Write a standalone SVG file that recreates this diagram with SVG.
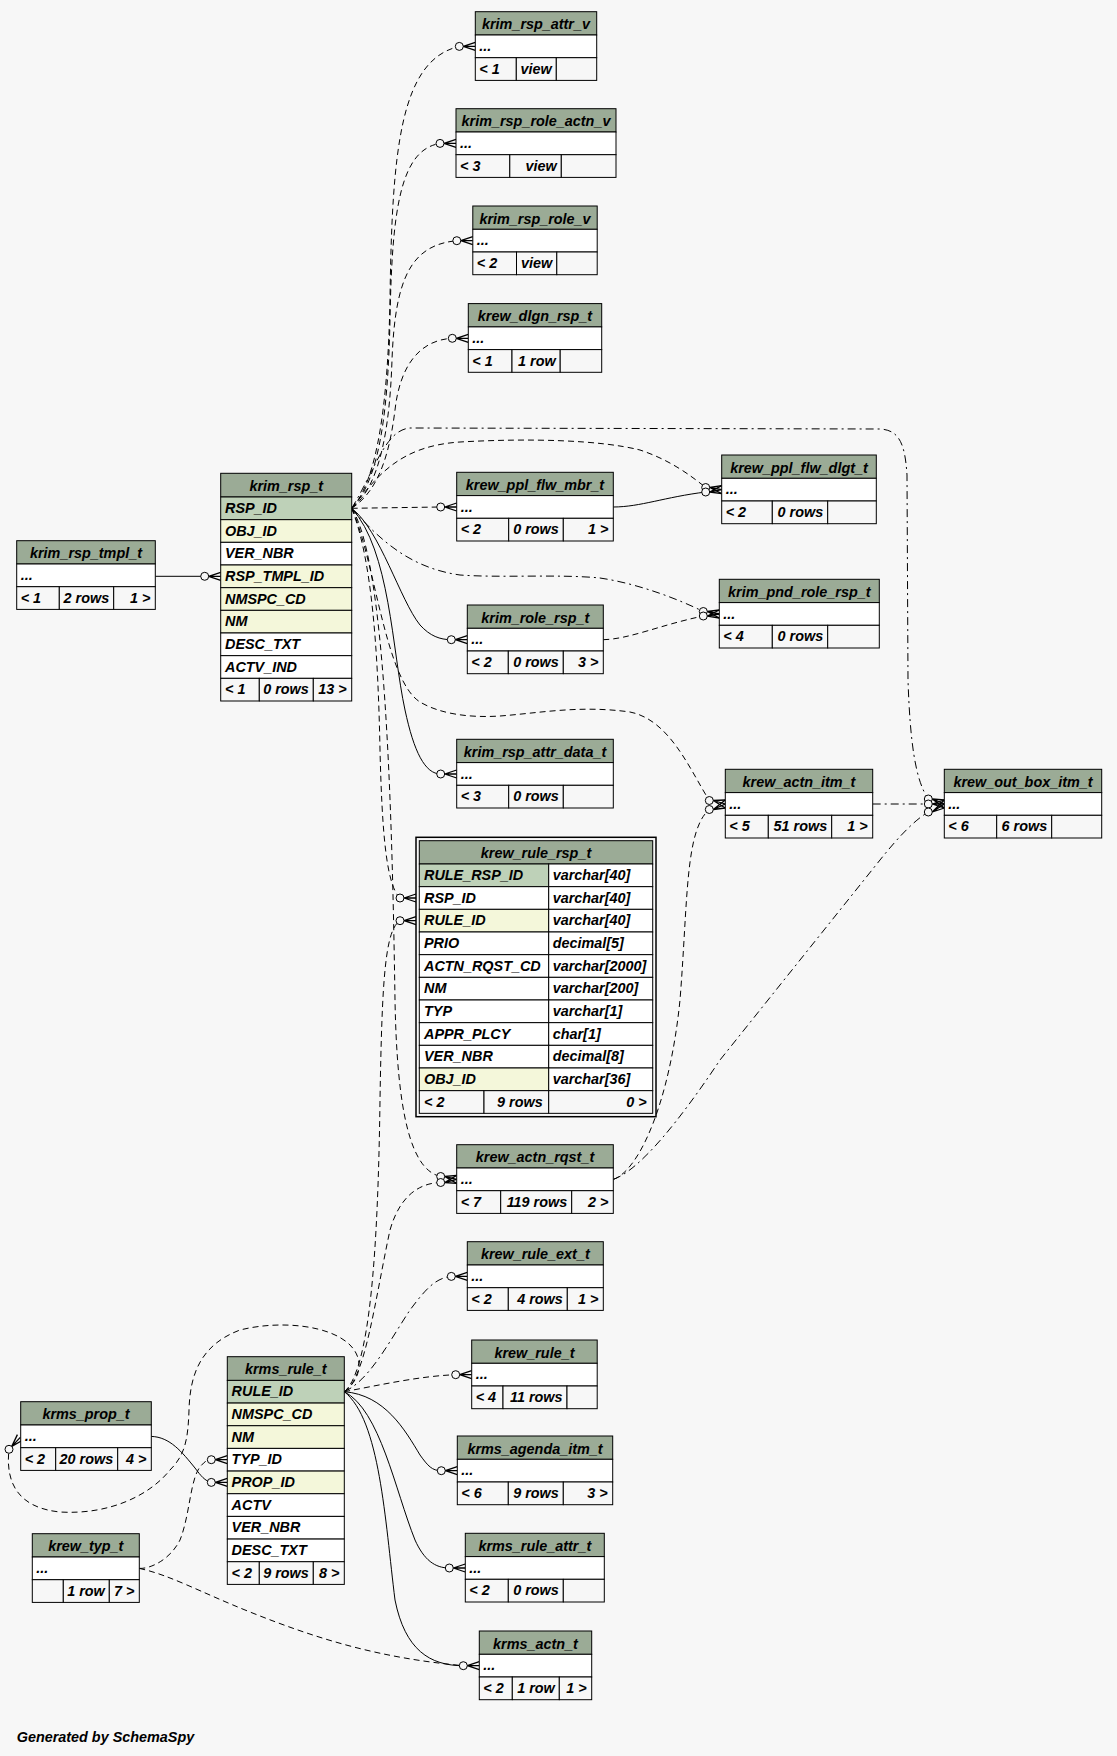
<svg xmlns="http://www.w3.org/2000/svg" width="1117" height="1756" viewBox="0 0 1117 1756">
<style>
.h{fill:#9bab96;stroke:#000;stroke-width:1}
.k{fill:#bed1b8;stroke:#000;stroke-width:1}
.i{fill:#f4f7da;stroke:#000;stroke-width:1}
.w{fill:#fff;stroke:#000;stroke-width:1}
.f{fill:#f7f7f7;stroke:#000;stroke-width:1}
text{font-family:"Liberation Sans",Arial,Helvetica,sans-serif;font-weight:bold;font-style:italic;font-size:14.4px;fill:#000}
.c{text-anchor:middle}
.r{text-anchor:end}
.e{fill:none;stroke:#000;stroke-width:1}
.d{stroke-dasharray:6 4}
.dd{stroke-dasharray:8 4 2 4}
.o{fill:#f7f7f7;stroke:#000;stroke-width:1}
.cr{fill:none;stroke:#000;stroke-width:1.3}
</style>
<rect width="1117" height="1756" fill="#f7f7f7"/>
<g id="connectors">
<path class="e" d="M155.3,576.3H204.7"/>
<path class="e" d="M613.3,507C640,507 665,497 705.7,492"/>
<path class="e" d="M351.7,508.3C380,530 400,600 420,625C430,636 440,639.7 451.3,639.7"/>
<path class="e" d="M351.7,508.3C390,550 392,650 405,710C414,752 425,774 440.7,774"/>
<path class="e" d="M344.3,1391.7C385,1395 405,1430 420,1455C428,1466 432,1470.7 441.3,1470.7"/>
<path class="e" d="M344.3,1391.7C380,1410 395,1490 415,1540C424,1560 435,1568 449.3,1568"/>
<path class="e" d="M344.3,1391.7C380,1420 385,1520 395,1600C405,1650 430,1665.7 463.3,1665.7"/>
<path class="e" d="M151.3,1436.4C170,1437 182,1452 195,1468C201,1476 205,1481 211.3,1482.4"/>
<path class="e d" d="M351.7,508.3C378,480 388,400 390,300C392,150 400,60 459.3,46.4"/>
<path class="e d" d="M351.7,508.3C380,480 388,410 390,320C392,210 400,150 440,143.4"/>
<path class="e d" d="M351.7,508.3C382,485 390,420 392,360C395,280 410,245 456.8,240.7"/>
<path class="e d" d="M351.7,508.3C380,490 390,450 395,410C400,365 420,340 452.3,338.3"/>
<path class="e d" d="M351.7,508.3L440.7,507"/>
<path class="e d" d="M351.7,508.3C378,475 400,446 460,442C530,438 600,440 640,450C670,460 690,475 705.7,487.5"/>
<path class="e d" d="M603.3,639.7C630,639 660,625 703.3,616"/>
<path class="e d" d="M351.7,508.3C375,560 385,680 420,702C440,714 470,718 500,716C540,713 580,705 630,712C670,720 690,770 709.3,800.5"/>
<path class="e d" d="M351.7,508.3C372,560 378,650 380,750C382,830 386,885 400,898"/>
<path class="e d" d="M351.7,508.3C385,560 392,800 395,1000C397,1110 410,1170 440.7,1176.5"/>
<path class="e d" d="M344.3,1391.7C370,1370 378,1250 380,1100C382,980 385,930 400,920.7"/>
<path class="e d" d="M344.3,1391.7C365,1380 375,1300 390,1230C400,1195 420,1183 440.7,1182.5"/>
<path class="e d" d="M344.3,1391.7C380,1385 420,1376 455.7,1374.7"/>
<path class="e d" d="M344.3,1391.7C360,1380 365,1360 350,1345C330,1325 280,1320 240,1330C200,1345 190,1375 189,1410C188,1440 185,1455 170,1470C150,1495 110,1515 60,1512C20,1508 5,1485 9,1449.3"/>
<path class="e d" d="M139.3,1568.4C150,1569 170,1560 180,1540C190,1515 190,1480 200,1467C204,1462 207,1459.7 211.3,1459.7"/>
<path class="e d" d="M139.3,1568.4C170,1575 200,1592 250,1612C320,1640 380,1658 463.3,1665.7"/>
<path class="e d" d="M613.3,1179.4C640,1170 670,1100 680,1000C688,900 685,830 709.3,809.5"/>
<path class="e dd" d="M351.7,508.3C380,540 410,568 460,575C500,578 560,574 600,578C640,584 680,600 703.3,611.5"/>
<path class="e dd" d="M351.7,508.3C375,470 385,430 410,428L880,429C900,430 905,445 907,475L908,680C910,740 915,780 928.3,799"/>
<path class="e dd" d="M344.3,1391.7C370,1380 390,1340 410,1310C425,1290 435,1278 451.3,1276.4"/>
<path class="e dd" d="M872.7,804H928.3"/>
<path class="e dd" d="M613.3,1179.4C640,1170 680,1120 720,1060L880,860C900,835 915,820 928.3,812"/>
<g id="ends">
<circle class="o" cx="459.3" cy="46.4" r="4"/><path class="cr" d="M463.3,46.4L475.3,42.4M463.3,46.4H475.3M463.3,46.4L475.3,50.4"/>
<circle class="o" cx="440" cy="143.4" r="4"/><path class="cr" d="M444,143.4L456,139.4M444,143.4H456M444,143.4L456,147.4"/>
<circle class="o" cx="456.8" cy="240.7" r="4"/><path class="cr" d="M460.8,240.7L472.8,236.7M460.8,240.7H472.8M460.8,240.7L472.8,244.7"/>
<circle class="o" cx="452.3" cy="338.3" r="4"/><path class="cr" d="M456.3,338.3L468.3,334.3M456.3,338.3H468.3M456.3,338.3L468.3,342.3"/>
<circle class="o" cx="440.7" cy="507" r="4"/><path class="cr" d="M444.7,507L456.7,503M444.7,507H456.7M444.7,507L456.7,511"/>
<circle class="o" cx="705.7" cy="487.5" r="4"/><path class="cr" d="M709.7,487.5L721.7,485.7M709.7,487.5L721.7,489.7M709.7,487.5L721.7,493.7"/>
<circle class="o" cx="705.7" cy="492" r="4"/><path class="cr" d="M709.7,492L721.7,485.7M709.7,492L721.7,489.7M709.7,492L721.7,493.7"/>
<circle class="o" cx="703.3" cy="611.5" r="4"/><path class="cr" d="M707.3,611.5L719.3,610M707.3,611.5L719.3,614M707.3,611.5L719.3,618"/>
<circle class="o" cx="703.3" cy="616" r="4"/><path class="cr" d="M707.3,616L719.3,610M707.3,616L719.3,614M707.3,616L719.3,618"/>
<circle class="o" cx="451.3" cy="639.7" r="4"/><path class="cr" d="M455.3,639.7L467.3,635.7M455.3,639.7H467.3M455.3,639.7L467.3,643.7"/>
<circle class="o" cx="440.7" cy="774" r="4"/><path class="cr" d="M444.7,774L456.7,770M444.7,774H456.7M444.7,774L456.7,778"/>
<circle class="o" cx="709.3" cy="800.5" r="4"/><path class="cr" d="M713.3,800.5L725.3,800M713.3,800.5L725.3,804M713.3,800.5L725.3,808"/>
<circle class="o" cx="709.3" cy="809.5" r="4"/><path class="cr" d="M713.3,809.5L725.3,800M713.3,809.5L725.3,804M713.3,809.5L725.3,808"/>
<circle class="o" cx="928.3" cy="799" r="4"/><path class="cr" d="M932.3,799L944.3,800M932.3,799L944.3,804M932.3,799L944.3,808"/>
<circle class="o" cx="928.3" cy="804" r="4"/><path class="cr" d="M932.3,804L944.3,800M932.3,804H944.3M932.3,804L944.3,808"/>
<circle class="o" cx="928.3" cy="812" r="4"/><path class="cr" d="M932.3,812L944.3,800M932.3,812L944.3,804M932.3,812L944.3,808"/>
<circle class="o" cx="400" cy="898" r="4"/><path class="cr" d="M404,898L416,894M404,898H416M404,898L416,902"/>
<circle class="o" cx="400" cy="920.7" r="4"/><path class="cr" d="M404,920.7L416,916.7M404,920.7H416M404,920.7L416,924.7"/>
<circle class="o" cx="440.7" cy="1176.5" r="4"/><path class="cr" d="M444.7,1176.5L456.7,1175.4M444.7,1176.5L456.7,1179.4M444.7,1176.5L456.7,1183.4"/>
<circle class="o" cx="440.7" cy="1182.5" r="4"/><path class="cr" d="M444.7,1182.5L456.7,1175.4M444.7,1182.5L456.7,1179.4M444.7,1182.5L456.7,1183.4"/>
<circle class="o" cx="451.3" cy="1276.4" r="4"/><path class="cr" d="M455.3,1276.4L467.3,1272.4M455.3,1276.4H467.3M455.3,1276.4L467.3,1280.4"/>
<circle class="o" cx="455.7" cy="1374.7" r="4"/><path class="cr" d="M459.7,1374.7L471.7,1370.7M459.7,1374.7H471.7M459.7,1374.7L471.7,1378.7"/>
<circle class="o" cx="441.3" cy="1470.7" r="4"/><path class="cr" d="M445.3,1470.7L457.3,1466.7M445.3,1470.7H457.3M445.3,1470.7L457.3,1474.7"/>
<circle class="o" cx="449.3" cy="1568" r="4"/><path class="cr" d="M453.3,1568L465.3,1564M453.3,1568H465.3M453.3,1568L465.3,1572"/>
<circle class="o" cx="463.3" cy="1665.7" r="4"/><path class="cr" d="M467.3,1665.7L479.3,1661.7M467.3,1665.7H479.3M467.3,1665.7L479.3,1669.7"/>
<circle class="o" cx="204.7" cy="576.3" r="4"/><path class="cr" d="M208.7,576.3L220.7,572.3M208.7,576.3H220.7M208.7,576.3L220.7,580.3"/>
<circle class="o" cx="211.3" cy="1459.7" r="4"/><path class="cr" d="M215.3,1459.7L227.3,1455.7M215.3,1459.7H227.3M215.3,1459.7L227.3,1463.7"/>
<circle class="o" cx="211.3" cy="1482.4" r="4"/><path class="cr" d="M215.3,1482.4L227.3,1478.4M215.3,1482.4H227.3M215.3,1482.4L227.3,1486.4"/>
<circle class="o" cx="9" cy="1449.3" r="4"/><path class="cr" d="M11.8,1446.4L23,1440M11.8,1446.4L20.3,1437.4M11.8,1446.4L17.4,1434.6"/>
</g>
</g>
<g id="krim_rsp_attr_v" transform="translate(475.3,11.7)">
<rect class="h" width="121.4" height="23.3"/><text class="c" x="60.7" y="17.5">krim_rsp_attr_v</text>
<rect class="w" y="23.3" width="121.4" height="22.7"/><text x="4" y="39.3">...</text>
<rect class="f" y="46" width="41" height="22.7"/><rect class="f" x="41" y="46" width="40" height="22.7"/><rect class="f" x="81" y="46" width="40.4" height="22.7"/>
<text x="4" y="62">&lt; 1</text><text class="r" x="76.5" y="62">view</text>
</g>
<g id="krim_rsp_role_actn_v" transform="translate(456,108.7)">
<rect class="h" width="160" height="23.3"/><text class="c" x="80" y="17.5">krim_rsp_role_actn_v</text>
<rect class="w" y="23.3" width="160" height="22.7"/><text x="4" y="39.3">...</text>
<rect class="f" y="46" width="53.8" height="22.7"/><rect class="f" x="53.8" y="46" width="51.5" height="22.7"/><rect class="f" x="105.3" y="46" width="54.7" height="22.7"/>
<text x="4" y="62">&lt; 3</text><text class="r" x="100.8" y="62">view</text>
</g>
<g id="krim_rsp_role_v" transform="translate(472.8,206)">
<rect class="h" width="124.4" height="23.3"/><text class="c" x="62.2" y="17.5">krim_rsp_role_v</text>
<rect class="w" y="23.3" width="124.4" height="22.7"/><text x="4" y="39.3">...</text>
<rect class="f" y="46" width="43.7" height="22.7"/><rect class="f" x="43.7" y="46" width="40.3" height="22.7"/><rect class="f" x="84" y="46" width="40.4" height="22.7"/>
<text x="4" y="62">&lt; 2</text><text class="r" x="79.5" y="62">view</text>
</g>
<g id="krew_dlgn_rsp_t" transform="translate(468.3,303.6)">
<rect class="h" width="133.4" height="23.3"/><text class="c" x="66.7" y="17.5">krew_dlgn_rsp_t</text>
<rect class="w" y="23.3" width="133.4" height="22.7"/><text x="4" y="39.3">...</text>
<rect class="f" y="46" width="43.7" height="22.7"/><rect class="f" x="43.7" y="46" width="48.2" height="22.7"/><rect class="f" x="91.9" y="46" width="41.5" height="22.7"/>
<text x="4" y="62">&lt; 1</text><text class="r" x="87.4" y="62">1 row</text>
</g>
<g id="krew_ppl_flw_mbr_t" transform="translate(456.7,472.3)">
<rect class="h" width="156.6" height="23.3"/><text class="c" x="78.3" y="17.5">krew_ppl_flw_mbr_t</text>
<rect class="w" y="23.3" width="156.6" height="22.7"/><text x="4" y="39.3">...</text>
<rect class="f" y="46" width="52" height="22.7"/><rect class="f" x="52" y="46" width="54.6" height="22.7"/><rect class="f" x="106.6" y="46" width="50" height="22.7"/>
<text x="4" y="62">&lt; 2</text><text class="r" x="102.1" y="62">0 rows</text><text class="r" x="151.6" y="62">1 &gt;</text>
</g>
<g id="krew_ppl_flw_dlgt_t" transform="translate(721.7,455)">
<rect class="h" width="154.6" height="23.3"/><text class="c" x="77.3" y="17.5">krew_ppl_flw_dlgt_t</text>
<rect class="w" y="23.3" width="154.6" height="22.7"/><text x="4" y="39.3">...</text>
<rect class="f" y="46" width="50.6" height="22.7"/><rect class="f" x="50.6" y="46" width="55.4" height="22.7"/><rect class="f" x="106" y="46" width="48.6" height="22.7"/>
<text x="4" y="62">&lt; 2</text><text class="r" x="101.5" y="62">0 rows</text>
</g>
<g id="krim_pnd_role_rsp_t" transform="translate(719.3,579.3)">
<rect class="h" width="160" height="23.3"/><text class="c" x="80" y="17.5">krim_pnd_role_rsp_t</text>
<rect class="w" y="23.3" width="160" height="22.7"/><text x="4" y="39.3">...</text>
<rect class="f" y="46" width="53" height="22.7"/><rect class="f" x="53" y="46" width="55.4" height="22.7"/><rect class="f" x="108.4" y="46" width="51.6" height="22.7"/>
<text x="4" y="62">&lt; 4</text><text class="r" x="103.9" y="62">0 rows</text>
</g>
<g id="krim_role_rsp_t" transform="translate(467.3,605)">
<rect class="h" width="136" height="23.3"/><text class="c" x="68" y="17.5">krim_role_rsp_t</text>
<rect class="w" y="23.3" width="136" height="22.7"/><text x="4" y="39.3">...</text>
<rect class="f" y="46" width="41" height="22.7"/><rect class="f" x="41" y="46" width="55" height="22.7"/><rect class="f" x="96" y="46" width="40" height="22.7"/>
<text x="4" y="62">&lt; 2</text><text class="r" x="91.5" y="62">0 rows</text><text class="r" x="131" y="62">3 &gt;</text>
</g>
<g id="krim_rsp_attr_data_t" transform="translate(456.7,739.3)">
<rect class="h" width="156.6" height="23.3"/><text class="c" x="78.3" y="17.5">krim_rsp_attr_data_t</text>
<rect class="w" y="23.3" width="156.6" height="22.7"/><text x="4" y="39.3">...</text>
<rect class="f" y="46" width="52" height="22.7"/><rect class="f" x="52" y="46" width="54.6" height="22.7"/><rect class="f" x="106.6" y="46" width="50" height="22.7"/>
<text x="4" y="62">&lt; 3</text><text class="r" x="102.1" y="62">0 rows</text>
</g>
<g id="krew_actn_itm_t" transform="translate(725.3,769.3)">
<rect class="h" width="147.4" height="23.3"/><text class="c" x="73.7" y="17.5">krew_actn_itm_t</text>
<rect class="w" y="23.3" width="147.4" height="22.7"/><text x="4" y="39.3">...</text>
<rect class="f" y="46" width="43" height="22.7"/><rect class="f" x="43" y="46" width="63.4" height="22.7"/><rect class="f" x="106.4" y="46" width="41" height="22.7"/>
<text x="4" y="62">&lt; 5</text><text class="r" x="101.9" y="62">51 rows</text><text class="r" x="142.4" y="62">1 &gt;</text>
</g>
<g id="krew_out_box_itm_t" transform="translate(944.3,769.3)">
<rect class="h" width="157.4" height="23.3"/><text class="c" x="78.7" y="17.5">krew_out_box_itm_t</text>
<rect class="w" y="23.3" width="157.4" height="22.7"/><text x="4" y="39.3">...</text>
<rect class="f" y="46" width="52.4" height="22.7"/><rect class="f" x="52.4" y="46" width="55" height="22.7"/><rect class="f" x="107.4" y="46" width="50" height="22.7"/>
<text x="4" y="62">&lt; 6</text><text class="r" x="102.9" y="62">6 rows</text>
</g>
<g id="krew_actn_rqst_t" transform="translate(456.7,1144.7)">
<rect class="h" width="156.6" height="23.3"/><text class="c" x="78.3" y="17.5">krew_actn_rqst_t</text>
<rect class="w" y="23.3" width="156.6" height="22.7"/><text x="4" y="39.3">...</text>
<rect class="f" y="46" width="44" height="22.7"/><rect class="f" x="44" y="46" width="71" height="22.7"/><rect class="f" x="115" y="46" width="41.6" height="22.7"/>
<text x="4" y="62">&lt; 7</text><text class="r" x="110.5" y="62">119 rows</text><text class="r" x="151.6" y="62">2 &gt;</text>
</g>
<g id="krew_rule_ext_t" transform="translate(467.3,1241.7)">
<rect class="h" width="136" height="23.3"/><text class="c" x="68" y="17.5">krew_rule_ext_t</text>
<rect class="w" y="23.3" width="136" height="22.7"/><text x="4" y="39.3">...</text>
<rect class="f" y="46" width="41" height="22.7"/><rect class="f" x="41" y="46" width="59" height="22.7"/><rect class="f" x="100" y="46" width="36" height="22.7"/>
<text x="4" y="62">&lt; 2</text><text class="r" x="95.5" y="62">4 rows</text><text class="r" x="131" y="62">1 &gt;</text>
</g>
<g id="krew_rule_t" transform="translate(471.7,1340)">
<rect class="h" width="125.5" height="23.3"/><text class="c" x="62.75" y="17.5">krew_rule_t</text>
<rect class="w" y="23.3" width="125.5" height="22.7"/><text x="4" y="39.3">...</text>
<rect class="f" y="46" width="31.3" height="22.7"/><rect class="f" x="31.3" y="46" width="64" height="22.7"/><rect class="f" x="95.3" y="46" width="30.2" height="22.7"/>
<text x="4" y="62">&lt; 4</text><text class="r" x="90.8" y="62">11 rows</text>
</g>
<g id="krms_agenda_itm_t" transform="translate(457.3,1436)">
<rect class="h" width="155.4" height="23.3"/><text class="c" x="77.7" y="17.5">krms_agenda_itm_t</text>
<rect class="w" y="23.3" width="155.4" height="22.7"/><text x="4" y="39.3">...</text>
<rect class="f" y="46" width="51" height="22.7"/><rect class="f" x="51" y="46" width="55" height="22.7"/><rect class="f" x="106" y="46" width="49.4" height="22.7"/>
<text x="4" y="62">&lt; 6</text><text class="r" x="101.5" y="62">9 rows</text><text class="r" x="150.4" y="62">3 &gt;</text>
</g>
<g id="krms_rule_attr_t" transform="translate(465.3,1533.3)">
<rect class="h" width="139" height="23.3"/><text class="c" x="69.5" y="17.5">krms_rule_attr_t</text>
<rect class="w" y="23.3" width="139" height="22.7"/><text x="4" y="39.3">...</text>
<rect class="f" y="46" width="43" height="22.7"/><rect class="f" x="43" y="46" width="55" height="22.7"/><rect class="f" x="98" y="46" width="41" height="22.7"/>
<text x="4" y="62">&lt; 2</text><text class="r" x="93.5" y="62">0 rows</text>
</g>
<g id="krms_actn_t" transform="translate(479.3,1631)">
<rect class="h" width="112.4" height="23.3"/><text class="c" x="56.2" y="17.5">krms_actn_t</text>
<rect class="w" y="23.3" width="112.4" height="22.7"/><text x="4" y="39.3">...</text>
<rect class="f" y="46" width="33" height="22.7"/><rect class="f" x="33" y="46" width="47" height="22.7"/><rect class="f" x="80" y="46" width="32.4" height="22.7"/>
<text x="4" y="62">&lt; 2</text><text class="r" x="75.5" y="62">1 row</text><text class="r" x="107.4" y="62">1 &gt;</text>
</g>
<g id="krim_rsp_tmpl_t" transform="translate(16.7,540.7)">
<rect class="h" width="138.6" height="23.3"/><text class="c" x="69.3" y="17.5">krim_rsp_tmpl_t</text>
<rect class="w" y="23.3" width="138.6" height="22.7"/><text x="4" y="39.3">...</text>
<rect class="f" y="46" width="42.6" height="22.7"/><rect class="f" x="42.6" y="46" width="54.4" height="22.7"/><rect class="f" x="97" y="46" width="41.6" height="22.7"/>
<text x="4" y="62">&lt; 1</text><text class="r" x="92.5" y="62">2 rows</text><text class="r" x="133.6" y="62">1 &gt;</text>
</g>
<g id="krms_prop_t" transform="translate(20.7,1401.7)">
<rect class="h" width="130.6" height="23.3"/><text class="c" x="65.3" y="17.5">krms_prop_t</text>
<rect class="w" y="23.3" width="130.6" height="22.7"/><text x="4" y="39.3">...</text>
<rect class="f" y="46" width="35" height="22.7"/><rect class="f" x="35" y="46" width="62" height="22.7"/><rect class="f" x="97" y="46" width="33.6" height="22.7"/>
<text x="4" y="62">&lt; 2</text><text class="r" x="92.5" y="62">20 rows</text><text class="r" x="125.6" y="62">4 &gt;</text>
</g>
<g id="krew_typ_t" transform="translate(32.3,1533.7)">
<rect class="h" width="107" height="23.3"/><text class="c" x="53.5" y="17.5">krew_typ_t</text>
<rect class="w" y="23.3" width="107" height="22.7"/><text x="4" y="39.3">...</text>
<rect class="f" y="46" width="31" height="22.7"/><rect class="f" x="31" y="46" width="46" height="22.7"/><rect class="f" x="77" y="46" width="30" height="22.7"/>
<text class="r" x="72.5" y="62">1 row</text><text class="r" x="102" y="62">7 &gt;</text>
</g>
<g id="krim_rsp_t" transform="translate(220.7,473.3)">
<rect class="h" width="131" height="23.7"/><text class="c" x="65.5" y="17.7">krim_rsp_t</text>
<rect class="k" y="23.7" width="131" height="22.67"/><text x="4.3" y="39.7">RSP_ID</text>
<rect class="i" y="46.37" width="131" height="22.67"/><text x="4.3" y="62.37">OBJ_ID</text>
<rect class="w" y="69.03" width="131" height="22.67"/><text x="4.3" y="85.03">VER_NBR</text>
<rect class="i" y="91.7" width="131" height="22.67"/><text x="4.3" y="107.7">RSP_TMPL_ID</text>
<rect class="i" y="114.37" width="131" height="22.67"/><text x="4.3" y="130.37">NMSPC_CD</text>
<rect class="i" y="137.03" width="131" height="22.67"/><text x="4.3" y="153.03">NM</text>
<rect class="w" y="159.7" width="131" height="22.67"/><text x="4.3" y="175.7">DESC_TXT</text>
<rect class="w" y="182.37" width="131" height="22.67"/><text x="4.3" y="198.37">ACTV_IND</text>
<rect class="f" y="205.03" width="38.6" height="22.67"/><rect class="f" x="38.6" y="205.03" width="54" height="22.67"/><rect class="f" x="92.6" y="205.03" width="38.4" height="22.67"/>
<text x="4.3" y="221.03">&lt; 1</text><text class="r" x="88.1" y="221.03">0 rows</text><text class="r" x="126" y="221.03">13 &gt;</text>
</g>
<g id="krms_rule_t" transform="translate(227.3,1356.7)">
<rect class="h" width="117" height="23.7"/><text class="c" x="58.5" y="17.7">krms_rule_t</text>
<rect class="k" y="23.7" width="117" height="22.67"/><text x="4.3" y="39.7">RULE_ID</text>
<rect class="i" y="46.37" width="117" height="22.67"/><text x="4.3" y="62.37">NMSPC_CD</text>
<rect class="i" y="69.03" width="117" height="22.67"/><text x="4.3" y="85.03">NM</text>
<rect class="w" y="91.7" width="117" height="22.67"/><text x="4.3" y="107.7">TYP_ID</text>
<rect class="i" y="114.37" width="117" height="22.67"/><text x="4.3" y="130.37">PROP_ID</text>
<rect class="w" y="137.03" width="117" height="22.67"/><text x="4.3" y="153.03">ACTV</text>
<rect class="w" y="159.7" width="117" height="22.67"/><text x="4.3" y="175.7">VER_NBR</text>
<rect class="w" y="182.37" width="117" height="22.67"/><text x="4.3" y="198.37">DESC_TXT</text>
<rect class="f" y="205.03" width="32" height="22.67"/><rect class="f" x="32" y="205.03" width="54" height="22.67"/><rect class="f" x="86" y="205.03" width="31" height="22.67"/>
<text x="4.3" y="221.03">&lt; 2</text><text class="r" x="81.5" y="221.03">9 rows</text><text class="r" x="112" y="221.03">8 &gt;</text>
</g>
<g id="krew_rule_rsp_t" transform="translate(416,837.3)">
<rect width="240" height="279.4" fill="#f7f7f7" stroke="#000" stroke-width="1.5"/>
<rect class="h" x="3.3" y="3.4" width="233.4" height="23.3"/><text class="c" x="120" y="21.1">krew_rule_rsp_t</text>
<rect class="k" x="3.3" y="26.7" width="129.4" height="22.67"/><rect class="w" x="132.7" y="26.7" width="104" height="22.67"/><text x="8" y="42.7">RULE_RSP_ID</text><text x="136.7" y="42.7">varchar[40]</text>
<rect class="w" x="3.3" y="49.37" width="129.4" height="22.67"/><rect class="w" x="132.7" y="49.37" width="104" height="22.67"/><text x="8" y="65.37">RSP_ID</text><text x="136.7" y="65.37">varchar[40]</text>
<rect class="i" x="3.3" y="72.03" width="129.4" height="22.67"/><rect class="w" x="132.7" y="72.03" width="104" height="22.67"/><text x="8" y="88.03">RULE_ID</text><text x="136.7" y="88.03">varchar[40]</text>
<rect class="w" x="3.3" y="94.7" width="129.4" height="22.67"/><rect class="w" x="132.7" y="94.7" width="104" height="22.67"/><text x="8" y="110.7">PRIO</text><text x="136.7" y="110.7">decimal[5]</text>
<rect class="w" x="3.3" y="117.37" width="129.4" height="22.67"/><rect class="w" x="132.7" y="117.37" width="104" height="22.67"/><text x="8" y="133.37">ACTN_RQST_CD</text><text x="136.7" y="133.37">varchar[2000]</text>
<rect class="w" x="3.3" y="140.03" width="129.4" height="22.67"/><rect class="w" x="132.7" y="140.03" width="104" height="22.67"/><text x="8" y="156.03">NM</text><text x="136.7" y="156.03">varchar[200]</text>
<rect class="w" x="3.3" y="162.7" width="129.4" height="22.67"/><rect class="w" x="132.7" y="162.7" width="104" height="22.67"/><text x="8" y="178.7">TYP</text><text x="136.7" y="178.7">varchar[1]</text>
<rect class="w" x="3.3" y="185.37" width="129.4" height="22.67"/><rect class="w" x="132.7" y="185.37" width="104" height="22.67"/><text x="8" y="201.37">APPR_PLCY</text><text x="136.7" y="201.37">char[1]</text>
<rect class="w" x="3.3" y="208.03" width="129.4" height="22.67"/><rect class="w" x="132.7" y="208.03" width="104" height="22.67"/><text x="8" y="224.03">VER_NBR</text><text x="136.7" y="224.03">decimal[8]</text>
<rect class="i" x="3.3" y="230.7" width="129.4" height="22.67"/><rect class="w" x="132.7" y="230.7" width="104" height="22.67"/><text x="8" y="246.7">OBJ_ID</text><text x="136.7" y="246.7">varchar[36]</text>
<rect class="f" x="3.3" y="253.37" width="64.7" height="22.67"/><rect class="f" x="68" y="253.37" width="64.7" height="22.67"/><rect class="f" x="132.7" y="253.37" width="104" height="22.67"/>
<text x="8" y="269.37">&lt; 2</text><text class="r" x="126.7" y="269.37">9 rows</text><text class="r" x="230.7" y="269.37">0 &gt;</text>
</g>
<text x="16.7" y="1741.7">Generated by SchemaSpy</text>
</svg>
